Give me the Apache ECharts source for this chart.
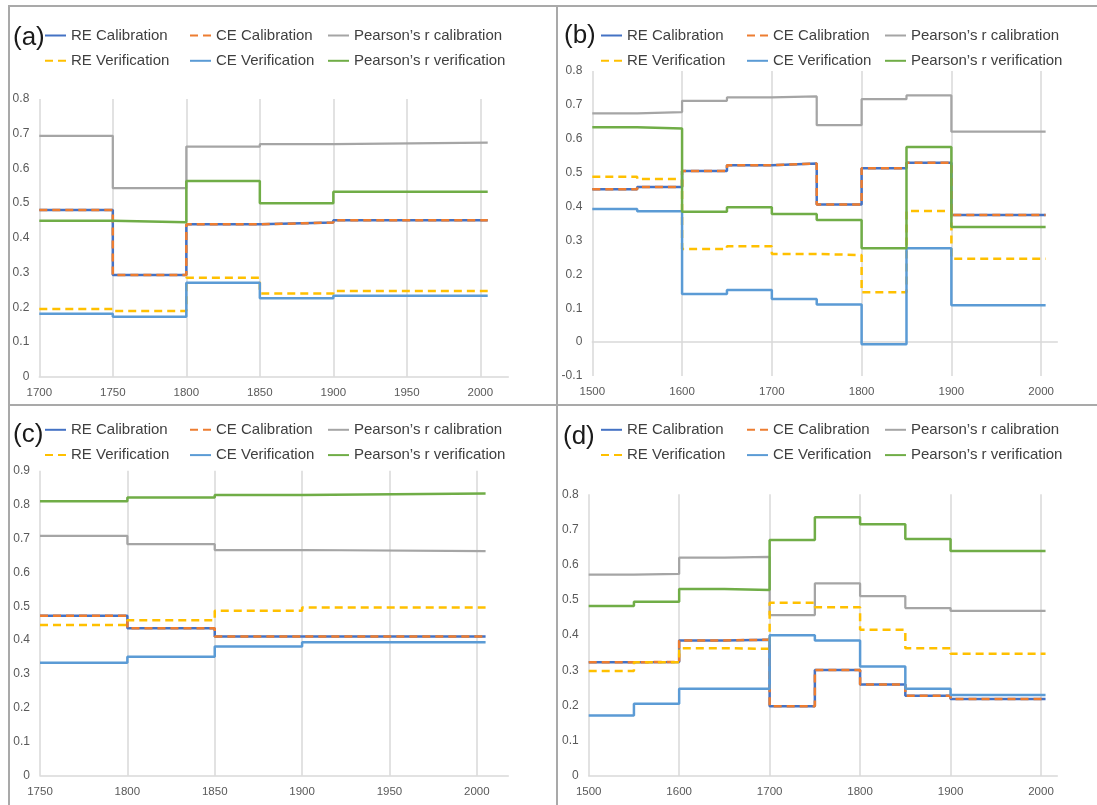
<!DOCTYPE html>
<html>
<head>
<meta charset="utf-8">
<script src="https://cdn.jsdelivr.net/npm/echarts@6/dist/echarts.min.js"></script>
<style>
  html, body { margin: 0; padding: 0; background: #fff; }
  body { width: 1097px; height: 805px; position: relative; overflow: hidden; }
  .panel { position: absolute; }
  .rule { position: absolute; background: #a9a9a9; }
</style>
</head>
<body>
<div id="pa" class="panel" style="left:0;top:0;width:557px;height:405px"></div>
<div id="pb" class="panel" style="left:557px;top:0;width:540px;height:405px"></div>
<div id="pc" class="panel" style="left:0;top:405px;width:557px;height:400px"></div>
<div id="pd" class="panel" style="left:557px;top:405px;width:540px;height:400px"></div>
<!-- frame around the four panels -->
<div class="rule" style="left:8px;top:5px;width:1089px;height:2px"></div>
<div class="rule" style="left:8px;top:5px;width:2px;height:800px"></div>
<div class="rule" style="left:556px;top:5px;width:2px;height:800px"></div>
<div class="rule" style="left:8px;top:404px;width:1089px;height:2px"></div>
<script>
// Series names (legend order)
const names = ['RE Calibration', 'CE Calibration', 'Pearson\u2019s r calibration',
               'RE Verification', 'CE Verification', 'Pearson\u2019s r verification'];

// (a) reconstruction period starts
const yearsA = [1700, 1750, 1800, 1850, 1900];
const endA = 2005;
const reCalA = [0.480, 0.293, 0.439, 0.444, 0.451];
const ceCalA = [0.480, 0.293, 0.439, 0.444, 0.451];
const prCalA = [0.694, 0.543, 0.663, 0.670, 0.674];
const reVerA = [0.195, 0.189, 0.285, 0.240, 0.247];
const ceVerA = [0.181, 0.173, 0.271, 0.226, 0.233];
const prVerA = [0.449, 0.445, 0.564, 0.500, 0.533];

// (b)
const yearsB = [1500, 1550, 1600, 1650, 1700, 1750, 1800, 1850, 1900];
const endB = 2005;
const reCalB = [0.451, 0.458, 0.505, 0.522, 0.527, 0.406, 0.513, 0.529, 0.375];
const ceCalB = [0.451, 0.458, 0.505, 0.522, 0.527, 0.406, 0.513, 0.529, 0.375];
const prCalB = [0.675, 0.679, 0.712, 0.722, 0.725, 0.640, 0.717, 0.728, 0.621];
const reVerB = [0.488, 0.481, 0.275, 0.283, 0.260, 0.257, 0.147, 0.387, 0.246];
const ceVerB = [0.393, 0.386, 0.142, 0.154, 0.127, 0.111, -0.006, 0.277, 0.109];
const prVerB = [0.634, 0.630, 0.385, 0.398, 0.378, 0.360, 0.277, 0.576, 0.340];

// (c)
const yearsC = [1750, 1800, 1850, 1900];
const endC = 2005;
const reCalC = [0.472, 0.435, 0.411, 0.411];
const ceCalC = [0.472, 0.435, 0.411, 0.411];
const prCalC = [0.708, 0.683, 0.666, 0.663];
const reVerC = [0.445, 0.459, 0.487, 0.496];
const ceVerC = [0.333, 0.351, 0.381, 0.394];
const prVerC = [0.810, 0.821, 0.828, 0.833];

// (d)
const yearsD = [1500, 1550, 1600, 1650, 1700, 1750, 1800, 1850, 1900];
const endD = 2005;
const reCalD = [0.323, 0.324, 0.385, 0.387, 0.198, 0.301, 0.260, 0.228, 0.219];
const ceCalD = [0.323, 0.324, 0.385, 0.387, 0.198, 0.301, 0.260, 0.228, 0.219];
const prCalD = [0.572, 0.574, 0.620, 0.622, 0.457, 0.547, 0.511, 0.477, 0.469];
const reVerD = [0.298, 0.323, 0.363, 0.361, 0.492, 0.479, 0.415, 0.363, 0.347];
const ceVerD = [0.172, 0.205, 0.248, 0.248, 0.400, 0.385, 0.311, 0.248, 0.230];
const prVerD = [0.483, 0.495, 0.531, 0.528, 0.670, 0.735, 0.715, 0.673, 0.639];

const FONT = '"Liberation Sans", Arial, sans-serif';

// styles per series: [color, dashed]
const styles = {
  'RE Calibration': ['#4472C4', false],
  'CE Calibration': ['#ED7D31', true],
  'Pearson\u2019s r calibration': ['#A5A5A5', false],
  'RE Verification': ['#FFC000', true],
  'CE Verification': ['#5B9BD5', false],
  'Pearson\u2019s r verification': ['#70AD47', false]
};

// step points: each value holds from its start year to the next start (last to end year)
function steps(years, vals, end) {
  const pts = years.map((y, i) => [y, vals[i]]);
  pts.push([end, vals[vals.length - 1]]);
  return pts;
}

function build(el, p) {
  const chart = echarts.init(document.getElementById(el), null, { renderer: 'canvas' });
  const series = names.map((n, i) => ({
    name: n,
    type: 'line',
    step: 'end',
    symbol: 'none',
    showSymbol: false,
    animation: false,
    data: steps(p.years, p.vals[i], p.end),
    lineStyle: {
      color: styles[n][0],
      width: n === names[2] ? 2.25 : 2.5,
      type: styles[n][1] ? [8, 5] : 'solid',
      cap: 'butt'
    },
    itemStyle: { color: styles[n][0] },
    z: 2 + i
  }));
  // the six legend entries sit in three columns of two rows; line-only keys
  const columns = [[names[0], names[3]], [names[1], names[4]], [names[2], names[5]]];
  const legends = columns.map((col, k) => ({
    orient: 'vertical',
    left: p.legendX[k],
    top: p.legendTop,
    data: col,
    itemWidth: 21,
    itemHeight: 14,
    itemGap: 10.3,
    padding: 0,
    selectedMode: false,
    itemStyle: { opacity: 0 },
    textStyle: { fontFamily: FONT, fontSize: 15, color: '#404040' }
  }));
  chart.setOption({
    animation: false,
    backgroundColor: 'transparent',
    legend: legends,
    grid: { left: p.grid[0], top: p.grid[1], width: p.grid[2], height: p.grid[3] },
    xAxis: {
      type: 'value',
      min: p.xMin, max: p.xMax, interval: p.xStep,
      axisLine: { show: true, lineStyle: { color: '#d9d9d9', width: 1.5 } },
      axisTick: { show: false },
      axisLabel: {
        showMaxLabel: false, margin: 10,
        fontFamily: FONT, fontSize: 11.5, color: '#595959',
        formatter: v => String(v)
      },
      splitLine: { show: true, showMaxLine: false, lineStyle: { color: '#d9d9d9', width: 1.5 } }
    },
    yAxis: {
      type: 'value',
      min: p.yMin, max: p.yMax, interval: 0.1,
      axisLine: { show: false },
      axisTick: { show: false },
      splitLine: { show: false },
      axisLabel: {
        margin: 10, fontFamily: FONT, fontSize: 12, color: '#595959',
        formatter: v => String(+v.toFixed(1))
      }
    },
    graphic: [{
      type: 'text',
      left: p.tag[0], top: p.tag[1],
      style: { text: p.label, fontFamily: FONT, fontSize: 26, fill: '#1a1a1a' }
    }],
    series: series
  });
}

build('pa', {
  label: '(a)', tag: [13, 25],
  years: yearsA, end: endA, vals: [reCalA, ceCalA, prCalA, reVerA, ceVerA, prVerA],
  legendX: [44, 189, 327], legendTop: 28,
  grid: [39.3, 99, 469, 277.7],
  xMin: 1700, xMax: 2019, xStep: 50, yMin: 0, yMax: 0.8
});
build('pb', {
  label: '(b)', tag: [7, 23],
  years: yearsB, end: endB, vals: [reCalB, ceCalB, prCalB, reVerB, ceVerB, prVerB],
  legendX: [43, 189, 327], legendTop: 28,
  grid: [35.3, 71, 465, 305],
  xMin: 1500, xMax: 2018, xStep: 100, yMin: -0.1, yMax: 0.8
});
build('pc', {
  label: '(c)', tag: [13, 17],
  years: yearsC, end: endC, vals: [reCalC, ceCalC, prCalC, reVerC, ceVerC, prVerC],
  legendX: [44, 189, 327], legendTop: 17.3,
  grid: [40, 65.7, 468.3, 305],
  xMin: 1750, xMax: 2018, xStep: 50, yMin: 0, yMax: 0.9
});
build('pd', {
  label: '(d)', tag: [6, 19],
  years: yearsD, end: endD, vals: [reCalD, ceCalD, prCalD, reVerD, ceVerD, prVerD],
  legendX: [43, 189, 327], legendTop: 17.3,
  grid: [31.7, 89.3, 468.6, 281.7],
  xMin: 1500, xMax: 2018, xStep: 100, yMin: 0, yMax: 0.8
});
</script>
</body>
</html>
